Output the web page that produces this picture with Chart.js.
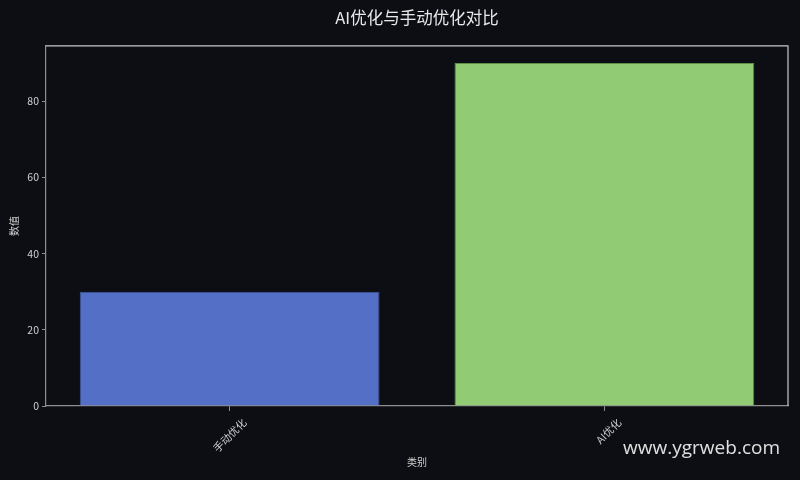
<!DOCTYPE html>
<html>
<head>
<meta charset="utf-8">
<script src="https://cdn.jsdelivr.net/npm/chart.js@4"></script>
<style>
  html, body { margin: 0; padding: 0; background: #0c0e14; }
  #wrap { width: 800px; height: 480px; }
</style>
</head>
<body>
<div id="wrap"><canvas id="myChart" width="800" height="480"></canvas></div>
<script>
const categories = ['手动优化', 'AI优化'];
const values = [30, 90];
const barColors = ['#5470c6', '#91cc75'];
const edgeColors = ['#3f5899', '#5d8f48'];
const yTicks = [0, 20, 40, 60, 80];

const cjk = "'Noto Sans CJK SC', 'Noto Sans', sans-serif";

// top / right frame lines and watermark
const framePlugin = {
    id: 'frame',
    afterDraw: (chart) => {
        const { ctx, chartArea: a } = chart;
        ctx.save();
        ctx.strokeStyle = '#c8c8c8';
        ctx.lineWidth = 1.2;
        ctx.beginPath();
        ctx.moveTo(a.left, a.top);
        ctx.lineTo(a.right, a.top);
        ctx.lineTo(a.right, a.bottom);
        ctx.stroke();
        ctx.fillStyle = '#e0e0e0';
        ctx.font = "19px 'Open Sans', 'Noto Sans', sans-serif";
        ctx.textAlign = 'right';
        ctx.textBaseline = 'middle';
        ctx.fillText('www.ygrweb.com', 780, 449);
        ctx.restore();
    }
};

const config = {
    type: 'bar',
    data: {
        datasets: [{
            data: values.map((v, i) => ({ x: i, y: v })),
            backgroundColor: barColors,
            borderColor: edgeColors,
            borderWidth: 1,
            barPercentage: 0.8,
            categoryPercentage: 1
        }]
    },
    options: {
        responsive: false,
        animation: false,
        layout: { padding: { left: 4, right: 12, top: 0, bottom: 8 } },
        plugins: {
            legend: { display: false },
            tooltip: { enabled: false },
            title: {
                display: true,
                fullSize: false,
                text: 'AI优化与手动优化对比',
                color: '#e8e8e8',
                font: { family: cjk, size: 16.5, weight: 'normal' },
                padding: { top: 8, bottom: 18 }
            }
        },
        scales: {
            x: {
                type: 'linear',
                min: -0.49,
                max: 1.49,
                offset: false,
                border: { color: '#8f8f8f', width: 1.2 },
                grid: { offset: false, drawOnChartArea: false, tickLength: 5, color: '#8f8f8f' },
                afterBuildTicks: (scale) => {
                    scale.ticks = categories.map((c, i) => ({ value: i }));
                },
                ticks: {
                    color: '#d0d0d0',
                    font: { family: cjk, size: 10.5 },
                    minRotation: 45,
                    maxRotation: 45,
                    padding: 5,
                    labelOffset: 15,
                    callback: (value) => categories[value]
                },
                title: {
                    display: true,
                    text: '类别',
                    color: '#d0d0d0',
                    font: { family: cjk, size: 10 },
                    padding: { top: 4 }
                },
                afterFit: (scale) => { scale.height = 66; }
            },
            y: {
                min: 0,
                max: 94.5,
                border: { color: '#8f8f8f', width: 1.2 },
                grid: { drawOnChartArea: false, tickLength: 4, color: '#8f8f8f' },
                ticks: {
                    color: '#d0d0d0',
                    font: { family: cjk, size: 10.5 },
                    padding: 3
                },
                afterBuildTicks: (scale) => {
                    scale.ticks = yTicks.map((v) => ({ value: v }));
                },
                title: {
                    display: true,
                    text: '数值',
                    color: '#d0d0d0',
                    font: { family: cjk, size: 10 },
                    padding: { bottom: 6 }
                },
                afterFit: (scale) => { scale.width = 42; }
            }
        }
    },
    plugins: [framePlugin]
};

new Chart(document.getElementById('myChart'), config);
</script>
</body>
</html>
